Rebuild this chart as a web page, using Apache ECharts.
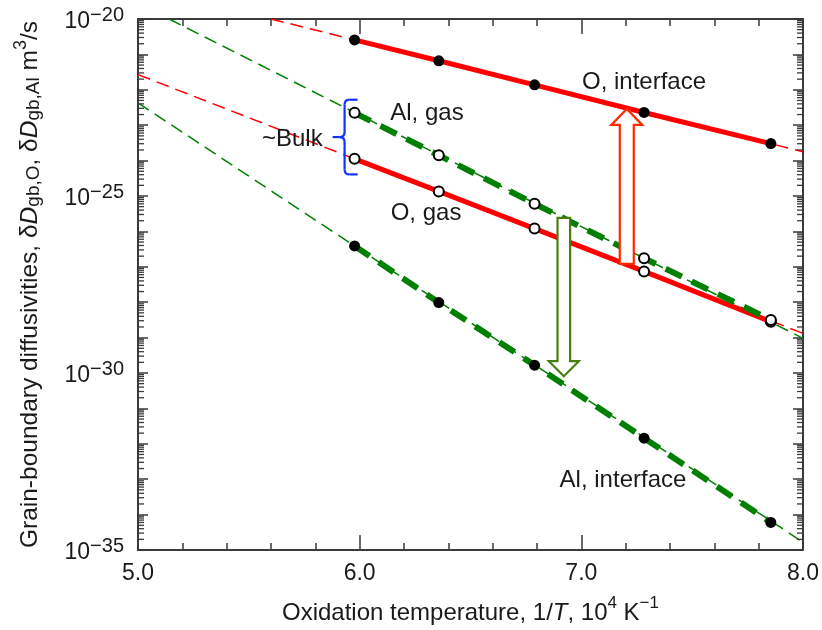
<!DOCTYPE html>
<html><head><meta charset="utf-8">
<script src="https://cdn.jsdelivr.net/npm/echarts@6/dist/echarts.min.js"></script>
<style>html,body{margin:0;padding:0;background:#fff}#main{width:822px;height:630px}</style>
</head><body><div id="main"></div>
<script>
// ---------- data (log10 of diffusivity, m^3/s) ----------
const invT = [5.977, 6.357, 6.789, 7.283, 7.855];          // 1/T, 10^4 K^-1
const oInterface  = [-20.59, -21.18, -21.86, -22.64, -23.52];
const oGas        = [-23.95, -24.87, -25.92, -27.13, -28.55];
const alGas       = [-22.65, -23.85, -25.22, -26.76, -28.50];
const alInterface = [-26.41, -28.01, -29.78, -31.84, -34.22];
// thin dashed extrapolations [x, log10 D]
const oInterfaceExt  = [[5.60, -20.00], [8.00, -23.75]];
const oGasExt        = [[5.00, -21.57], [8.00, -28.88]];
const alGasExt       = [[5.14, -20.00], [8.00, -29.02]];
const alInterfaceExt = [[5.00, -22.37], [8.00, -34.78]];
// annotations [x, y...]
const redArrow   = [7.205, -26.92, -22.54];
const greenArrow = [6.921, -25.62, -30.09];
const bulkBrace  = [5.932, -22.28, -24.39];
const labelTexts = ['O, interface', 'Al, gas', 'O, gas', 'Al, interface'];
const labelPos   = [[7.003, -21.79], [6.138, -22.68], [6.140, -25.48], [6.902, -33.02]];
const bulkText = '~Bulk';
const bulkPos  = [5.833, -23.40];
// axis tick values
const xMin = 5, xMax = 8, yMin = -35, yMax = -20;
const yLabelStep = 5;
const logSubFactors = [2, 3, 4, 5, 6, 7, 8, 9];

// ---------- build ----------
const FONT = '"Liberation Sans", Arial, Helvetica, sans-serif';
const TXT = '#1a1a1a';
const AX = '#3a3a3a';
const RED = '#ff0000', GREEN = '#008000';
const pairs = (xs, ys) => xs.map((x, i) => [x, ys[i]]);
const subTicks = [];
for (let d = yMin; d < yMax; d++) logSubFactors.forEach(k => subTicks.push([xMin, d + Math.log10(k)]));

const rich = {
  n:   {fontSize: 24, fontFamily: FONT, color: TXT, lineHeight: 30, verticalAlign: 'bottom'},
  i:   {fontSize: 24, fontFamily: FONT, color: TXT, lineHeight: 30, verticalAlign: 'bottom', fontStyle: 'italic'},
  sub: {fontSize: 17, fontFamily: FONT, color: TXT, lineHeight: 17, verticalAlign: 'bottom'},
  sup: {fontSize: 17, fontFamily: FONT, color: TXT, lineHeight: 17, verticalAlign: 'top'}
};
const richY = {
  n:   {fontSize: 24.5, fontFamily: FONT, color: TXT, lineHeight: 31, verticalAlign: 'bottom'},
  i:   {fontSize: 24.5, fontFamily: FONT, color: TXT, lineHeight: 31, verticalAlign: 'bottom', fontStyle: 'italic'},
  sub: {fontSize: 19, fontFamily: FONT, color: TXT, lineHeight: 19, verticalAlign: 'bottom'},
  sup: {fontSize: 18, fontFamily: FONT, color: TXT, lineHeight: 18, verticalAlign: 'top'}
};
const yRich = {
  b: {fontSize: 23, fontFamily: FONT, color: TXT, lineHeight: 28, verticalAlign: 'bottom'},
  s: {fontSize: 20, fontFamily: FONT, color: TXT, lineHeight: 20, verticalAlign: 'top'}
};

const lineCol = {color: AX, width: 2};
const xBase = {
  type: 'value', min: xMin, max: xMax, interval: 1,
  axisLine: {show: true, onZero: false, lineStyle: lineCol},
  axisTick: {show: true, inside: true, length: 15, lineStyle: {color: AX, width: 1.5}},
  minorTick: {show: true, splitNumber: 5, length: 7, lineStyle: {color: AX, width: 1.5}},
  splitLine: {show: false}, minorSplitLine: {show: false}
};
const yBase = {
  type: 'value', min: yMin, max: yMax, interval: 1,
  axisLine: {show: true, onZero: false, lineStyle: lineCol},
  axisTick: {show: true, inside: true, length: 10, lineStyle: {color: AX, width: 1.5}},
  splitLine: {show: false}
};

const thin = (data, color) => ({type: 'line', data, symbol: 'none', z: 2, silent: true,
  lineStyle: {color, width: 1.5, type: [13, 7]}});
const thick = (data, color, dashed) => ({type: 'line', data, symbol: 'none', z: 3, silent: true,
  lineStyle: {color, width: dashed ? 6 : 5, type: dashed ? [18, 11] : 'solid', cap: 'butt'}});
const marks = (data, filled) => ({type: 'scatter', data, z: 8, silent: true, symbol: 'circle',
  symbolSize: filled ? 11 : 10,
  itemStyle: filled ? {color: '#000', opacity: 1} : {color: '#fff', borderColor: '#000', borderWidth: 2, opacity: 1}});

function arrowSeries(d, color, shaftHalf, headHalf, headLen) {
  return {type: 'custom', coordinateSystem: 'cartesian2d', z: 6, silent: true, data: [d],
    renderItem: (params, api) => {
      const b = api.coord([api.value(0), api.value(1)]);
      const t = api.coord([api.value(0), api.value(2)]);
      const dir = t[1] < b[1] ? 1 : -1; // 1 = up
      const cx = b[0], hb = t[1] + dir * headLen;
      const pts = [[cx - shaftHalf, b[1]], [cx - shaftHalf, hb], [cx - headHalf, hb], [cx, t[1]],
                   [cx + headHalf, hb], [cx + shaftHalf, hb], [cx + shaftHalf, b[1]]];
      return {type: 'polygon', shape: {points: pts}, style: {fill: '#fff', stroke: color, lineWidth: 2.2}};
    }};
}

const braceSeries = {type: 'custom', coordinateSystem: 'cartesian2d', z: 6, silent: true, data: [bulkBrace],
  renderItem: (params, api) => {
    const top = api.coord([api.value(0), api.value(1)]);
    const bot = api.coord([api.value(0), api.value(2)]);
    const xv = top[0], yt = top[1], yb = bot[1], ym = (yt + yb) / 2;
    const r = 5, hook = 13, tip = 12;
    const st = {stroke: '#1030ff', lineWidth: 2.2, fill: null};
    const bez = (x1, y1, cx, cy, x2, y2) => ({type: 'bezierCurve', shape: {x1, y1, cpx1: cx, cpy1: cy, x2, y2}, style: st});
    const ln = (x1, y1, x2, y2) => ({type: 'line', shape: {x1, y1, x2, y2}, style: st});
    return {type: 'group', children: [
      ln(xv + hook, yt, xv + r, yt), bez(xv + r, yt, xv, yt, xv, yt + r),
      ln(xv, yt + r, xv, ym - r), bez(xv, ym - r, xv, ym, xv - r, ym), ln(xv - r, ym, xv - tip, ym),
      bez(xv - r, ym, xv, ym, xv, ym + r), ln(xv, ym + r, xv, yb - r),
      bez(xv, yb - r, xv, yb, xv + r, yb), ln(xv + r, yb, xv + hook, yb)
    ]};
  }};

const tickSeries = {type: 'custom', coordinateSystem: 'cartesian2d', z: 9, silent: true, data: subTicks,
  renderItem: (params, api) => {
    const l = api.coord([xMin, api.value(1)]);
    const r = api.coord([xMax, api.value(1)]);
    const st = {stroke: AX, lineWidth: 1.3};
    return {type: 'group', children: [
      {type: 'line', shape: {x1: l[0], y1: l[1], x2: l[0] + 6, y2: l[1]}, style: st},
      {type: 'line', shape: {x1: r[0], y1: r[1], x2: r[0] - 6, y2: r[1]}, style: st}
    ]};
  }};

const textLabel = {fontSize: 24, fontFamily: FONT, color: TXT};
const labelSeries = {type: 'scatter', symbolSize: 0, z: 10, silent: true, itemStyle: {opacity: 1},
  data: labelPos.map((p, i) => ({value: p, label: {show: true, position: 'right', distance: 0, formatter: labelTexts[i], ...textLabel}}))
    .concat([{value: bulkPos, label: {show: true, position: 'left', distance: 0, formatter: bulkText, ...textLabel}}])};

const option = {
  animation: false,
  backgroundColor: '#fff',
  grid: {left: 138, right: 19, top: 19, bottom: 74},
  xAxis: [
    Object.assign({}, xBase, {position: 'bottom',
      axisLabel: {formatter: v => v.toFixed(1), fontSize: 23, fontFamily: FONT, color: TXT, margin: 12},
      name: '{n|Oxidation temperature, 1/}{i|T}{n|, 10}{sup|4}{n| K}{sup|\u22121}',
      nameLocation: 'middle', nameGap: 45, nameTextStyle: {rich}}),
    Object.assign({}, xBase, {position: 'top', axisLabel: {show: false}})
  ],
  yAxis: [
    Object.assign({}, yBase, {position: 'left',
      axisLabel: {formatter: v => (v % yLabelStep === 0 ? '{b|10}{s|\u2212' + (-v) + '}' : ''),
        rich: yRich, margin: 14, hideOverlap: false},
      name: '{n|Grain-boundary diffusivities, \u03b4}{i|D}{sub|gb,O}{n|, \u03b4}{i|D}{sub|gb,Al}{n| m}{sup|3}{n|/s}',
      nameLocation: 'middle', nameGap: 95, nameTextStyle: {rich: richY}}),
    Object.assign({}, yBase, {position: 'right', axisLabel: {show: false}})
  ],
  series: [
    thin(oInterfaceExt, RED), thin(oGasExt, RED), thin(alGasExt, GREEN), thin(alInterfaceExt, GREEN),
    thick(pairs(invT, oInterface), RED, false), thick(pairs(invT, oGas), RED, false),
    thick(pairs(invT, alGas), GREEN, true), thick(pairs(invT, alInterface), GREEN, true),
    arrowSeries(redArrow, '#ff2a00', 7, 15.5, 16),
    arrowSeries(greenArrow, '#4a7d10', 6.3, 15, 15),
    braceSeries,
    marks(pairs(invT, oInterface), true), marks(pairs(invT, alInterface), true),
    marks(pairs(invT, oGas), false), marks(pairs(invT, alGas), false),
    tickSeries, labelSeries
  ]
};
const chart = echarts.init(document.getElementById('main'));
chart.setOption(option);
</script></body></html>
